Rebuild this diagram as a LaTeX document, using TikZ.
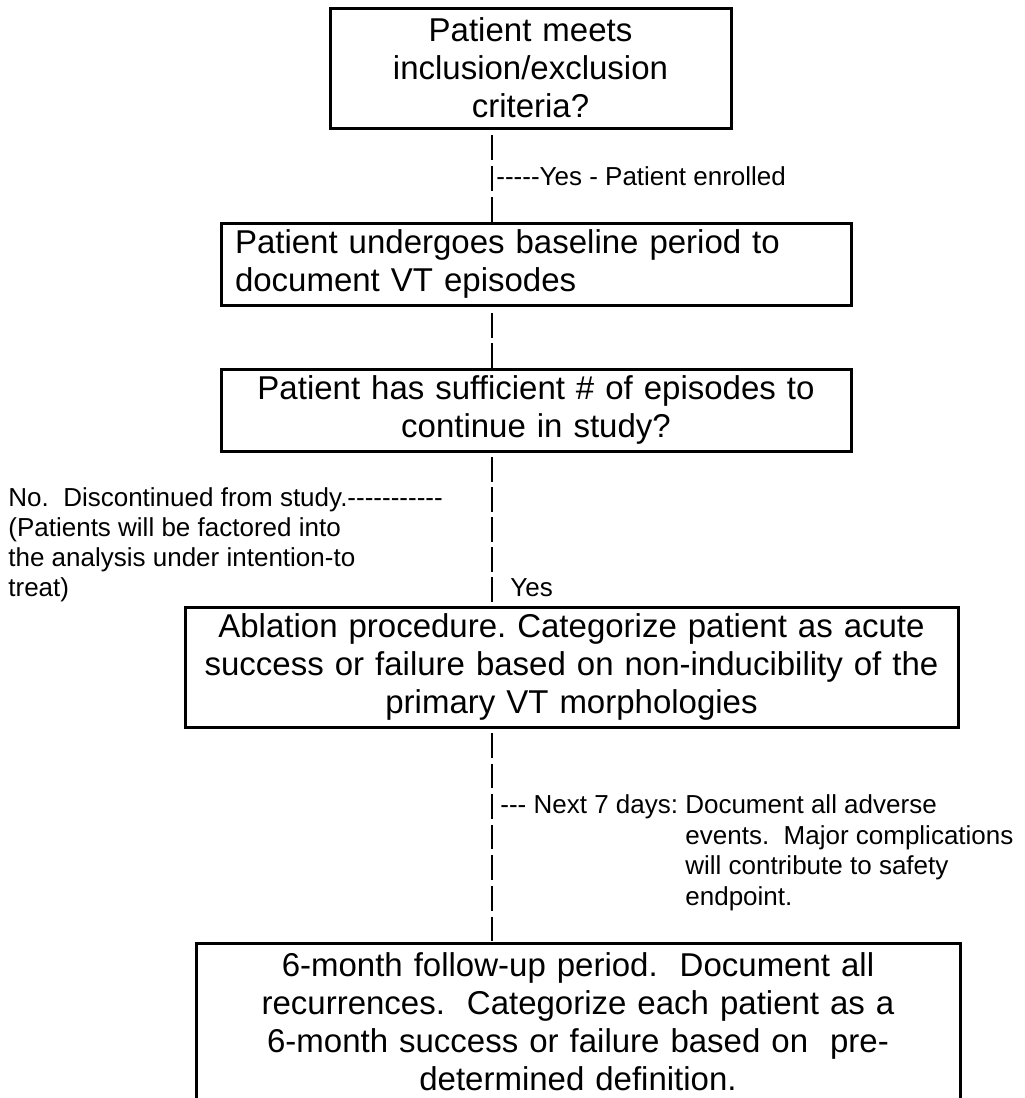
\documentclass[tikz,border=0pt]{standalone}
\usepackage{fontspec}
\setmainfont{Liberation Sans}
\usetikzlibrary{calc}
\newcommand\hh{\mbox{-}}
\begin{document}
\begin{tikzpicture}[x=0.5pt,y=-0.5pt,
  box/.style={draw, line width=1.5pt, outer sep=0pt, inner xsep=7pt, inner ysep=0pt,
    font=\fontsize{16.5}{19}\selectfont\frenchspacing},
  side/.style={inner sep=0pt, anchor=base west, font=\fontsize{13}{15}\selectfont\frenchspacing},
  conn/.style={line width=0.65pt}]
\useasboundingbox (0,0) rectangle (1024,1098);
\fill[white] (0,0) rectangle (1024,1098);
\coordinate (cx) at (492,0);
% boxes
\node[box, minimum width=200.5pt, minimum height=60pt, text width=186.5pt, align=center] (b1) at (530.5,68)
  {Patient meets\\inclusion/exclusion\\criteria?};
\node[box, minimum width=315pt, minimum height=41pt, text width=301pt, align=left] (b2) at (536,264)
  {Patient undergoes baseline period to\\document VT episodes};
\node[box, minimum width=315pt, minimum height=41pt, text width=301pt, align=center] (b3) at (536,410)
  {Patient has sufficient \# of episodes to\\continue in study?};
\node[box, minimum width=386.5pt, minimum height=60pt, text width=372.5pt, align=center] (b4) at (571.5,667)
  {Ablation procedure. Categorize patient as acute\\success or failure based on non-inducibility of the\\primary VT morphologies};
\node[box, minimum width=382pt, minimum height=79pt, text width=368pt, align=center] (b5) at (578,1022)
  {6-month follow-up period.\ \ Document all\\recurrences.\ \ Categorize each patient as a\\6-month success or failure based on\ \ pre-\\determined definition.};
% connectors
\draw[conn, dash pattern=on 12.25pt off 3.25pt, shorten <=3.5pt] (b1.south -| cx) -- (b2.north -| cx);
\draw[conn, dash pattern=on 12.25pt off 2.75pt, shorten <=4pt] (b2.south -| cx) -- (b3.north -| cx);
\draw[conn, dash pattern=on 12.25pt off 2.75pt, shorten <=3pt] (b3.south -| cx) -- (b4.north -| cx);
\draw[conn, dash pattern=on 12.25pt off 3.05pt, shorten <=3pt] (b4.south -| cx) -- (b5.north -| cx);
% side texts
\node[side] (yes1) at (496,185) {\hh\hh\hh\hh\hh Yes - Patient enrolled};
\node[side] (no1) at (8,506) {No.\ \ Discontinued from study.\hh\hh\hh\hh\hh\hh\hh\hh\hh\hh\hh};
\node[side] (no2) at (8,536) {(Patients will be factored into};
\node[side] (no3) at (8,566) {the analysis under intention-to};
\node[side] (no4) at (8,596) {treat)};
\node[side] (yes2) at (510,596) {Yes};
\node[side] (ad1) at (500,813) {\hh\hh\hh{} Next 7 days: Document all adverse};
\node[side] (ad2) at (685,844) {events.\ \ Major complications};
\node[side] (ad3) at (685,874.5) {will contribute to safety};
\node[side] (ad4) at (685,905) {endpoint.};
\end{tikzpicture}
\end{document}
